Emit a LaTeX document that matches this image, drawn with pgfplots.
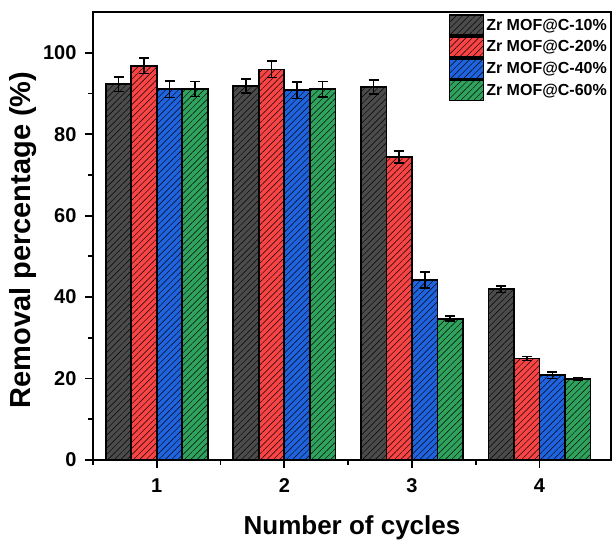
\documentclass[border=0pt]{standalone}
\usepackage{fontspec}
\setmainfont{Liberation Sans}
\usepackage{pgfplots}
\pgfplotsset{compat=1.18}
\usetikzlibrary{patterns.meta}
\definecolor{cgray}{HTML}{4B4B4B}
\definecolor{cred}{HTML}{F84444}
\definecolor{cblue}{HTML}{1F63DF}
\definecolor{cgreen}{HTML}{2FA35E}
\tikzset{hatch/.style={postaction={pattern={Lines[angle=45,distance=4.5pt,line width=0.45pt]},pattern color=black}}}
\begin{document}
\begin{tikzpicture}
\begin{axis}[
  scale only axis, width=518pt, height=448pt,
  xmin=0.5, xmax=4.56, ymin=0, ymax=110,
  ybar=0pt, bar width=0.2,
  axis line style={line width=1.8pt},
  xtick={1,2,3,4}, minor xtick={0.5,1.5,2.5,3.5},
  ytick={0,20,40,60,80,100}, minor ytick={10,30,50,70,90},
  tick align=outside, xtick pos=bottom, ytick pos=left,
  major tick length=8pt, minor tick length=4.5pt,
  tick style={line width=1.8pt, black},
  /pgf/number format/assume math mode=true,
  ticklabel style={font=\bfseries\fontsize{20}{22}\selectfont},
  xticklabel style={yshift=-7pt},
  yticklabel style={xshift=-5pt},
  xlabel style={font=\bfseries\fontsize{26}{28}\selectfont, yshift=-16pt},
  ylabel style={font=\bfseries\fontsize{29}{31}\selectfont, yshift=0pt, xshift=-4pt},
  xlabel={Number of cycles},
  ylabel={Removal percentage (\%)},
  legend style={draw=none, fill=white, at={(1,1)}, anchor=north east,
    font=\bfseries\fontsize{16}{18}\selectfont, row sep=0pt, inner sep=1pt,
    cells={anchor=west}, xshift=-1pt, yshift=-1pt},
  legend image code/.code={\draw[#1] (0pt,-10pt) rectangle (34pt,10pt);},
  every axis plot/.append style={draw=black, line width=1.8pt,
    error bars/y dir=both, error bars/y explicit,
    error bars/error bar style={line width=1.6pt, black},
    error bars/error mark options={rotate=90, mark size=5pt, line width=1.6pt, black}},
]
\addplot[fill=cgray, hatch] coordinates {(1,92.3) +- (0,1.8) (2,91.8) +- (0,1.7) (3,91.6) +- (0,1.7) (4,41.9) +- (0,0.8)};
\addplot[fill=cred, hatch] coordinates {(1,96.8) +- (0,1.9) (2,95.9) +- (0,2.0) (3,74.4) +- (0,1.5) (4,24.9) +- (0,0.5)};
\addplot[fill=cblue, hatch] coordinates {(1,91.0) +- (0,2.0) (2,90.8) +- (0,2.0) (3,44.2) +- (0,1.9) (4,20.8) +- (0,0.8)};
\addplot[fill=cgreen, hatch] coordinates {(1,91.1) +- (0,1.8) (2,91.0) +- (0,1.9) (3,34.7) +- (0,0.6) (4,19.9) +- (0,0.3)};
\legend{Zr MOF@C-10\%, Zr MOF@C-20\%, Zr MOF@C-40\%, Zr MOF@C-60\%}
\end{axis}
\pgfresetboundingbox
\path (current axis.south west) ++(-93pt,-82pt) rectangle ++(614pt,542pt);
\end{tikzpicture}
\end{document}
